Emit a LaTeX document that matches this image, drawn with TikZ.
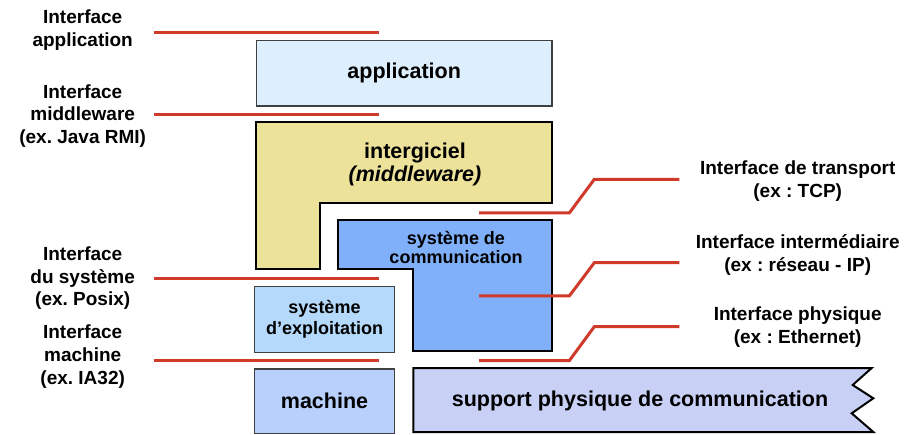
\documentclass[tikz,border=0pt]{standalone}
\usepackage{fontspec}
\setmainfont{Liberation Sans}
\usetikzlibrary{positioning}
\frenchspacing

\definecolor{ifred}{RGB}{208,58,42}
\definecolor{appblue}{RGB}{221,238,252}
\definecolor{midyellow}{RGB}{237,226,154}
\definecolor{comblue}{RGB}{128,176,250}
\definecolor{osblue}{RGB}{181,217,251}
\definecolor{machblue}{RGB}{184,208,251}
\definecolor{supblue}{RGB}{200,208,246}
\definecolor{thinedge}{RGB}{64,64,64}

\begin{document}
\begin{tikzpicture}[x=1pt, y=-1pt,
  iface/.style={draw=ifred, line width=3pt},
  thickbox/.style={draw=black, line width=2.3pt, line join=miter},
  thinbox/.style={draw=thinedge, line width=1.3pt, anchor=north west, inner sep=0pt},
  lbl/.style={align=center, font=\fontsize{19}{22.7}\selectfont\bfseries},
  boxtxt/.style={align=center, font=\fontsize{21.5}{23.5}\selectfont\bfseries},
  smalltxt/.style={align=center, font=\fontsize{18}{19}\selectfont\bfseries}]

\useasboundingbox (0,0) rectangle (923,435);

% layers
\node[thinbox, fill=appblue, minimum width=295.7pt, minimum height=65.6pt] (app) at (255.7,39.7) {}; %application
\node[boxtxt] (apptxt) at (app.center) {application};

\draw[thickbox, fill=midyellow] (256,122.3) -- (552,122.3) -- (552,203.3) -- (320,203.3) -- (320,269.3) -- (256,269.3) -- cycle; %intergiciel
\node[boxtxt] (midtxt) at (415,164.3) {intergiciel\\\textit{(middleware)}};

\draw[thickbox, fill=comblue] (337.7,220) -- (552,220) -- (552,351.3) -- (413,351.3) -- (413,269.3) -- (337.7,269.3) -- cycle; %communication
\node[smalltxt] (comtxt) at (456,247.3) {système de\\communication};

\node[thinbox, fill=osblue, minimum width=139.7pt, minimum height=65.7pt] (os) at (254,286) {}; %OS
\node[smalltxt, font=\fontsize{18}{21.4}\selectfont\bfseries] (ostxt) at (os.center) {système\\d'exploitation};

\node[thinbox, fill=machblue, minimum width=139.7pt, minimum height=64.2pt] (mach) at (254,368.3) {}; %machine
\node[boxtxt] (machtxt) at (mach.center) {machine};

\draw[thickbox, line width=2pt, fill=supblue] (413.3,368) -- (871.7,368) -- (852.7,385) -- (873.3,398.3) -- (851.7,413.3) -- (873.3,432) -- (413.3,432) -- cycle; %support
\node[boxtxt] (suptxt) at (640,401) {support physique de communication};

% interfaces, left
\foreach \y/\n in {32.3/app, 114.3/mid, 278.3/sys, 360.3/mach}{
  \coordinate (\n-a) at (154,\y);
  \coordinate (\n-b) at (379,\y);
  \draw[iface] (\n-a) -- (\n-b);
}
\node[lbl] (lapp) at (82.7,30.4) {Interface\\application};
\node[lbl] (lmid) at (82.7,115.8) {Interface\\middleware\\(ex. Java RMI)};
\node[lbl] (lsys) at (82.7,278.3) {Interface\\du système\\(ex. Posix)};
\node[lbl] (lmach) at (82.7,356.7) {Interface\\machine\\(ex. IA32)};

% interfaces, right
\foreach \ya/\yb/\n in {213/179.3/tr, 296/262.7/net, 360.7/326.7/phy}{
  \coordinate (\n-a) at (479,\ya);
  \coordinate (\n-b) at (679.3,\yb);
  \draw[iface] (\n-a) -- ++(90.3,0) -- ++(25,{\yb-\ya}) -- (\n-b);
}
\node[lbl] (rtr) at (797.7,180.9) {Interface de transport\\(ex : TCP)};
\node[lbl] (rnet) at (797.7,255.3) {Interface intermédiaire\\(ex : réseau - IP)};
\node[lbl] (rphy) at (797.7,327) {Interface physique\\(ex : Ethernet)};

\end{tikzpicture}
\end{document}
